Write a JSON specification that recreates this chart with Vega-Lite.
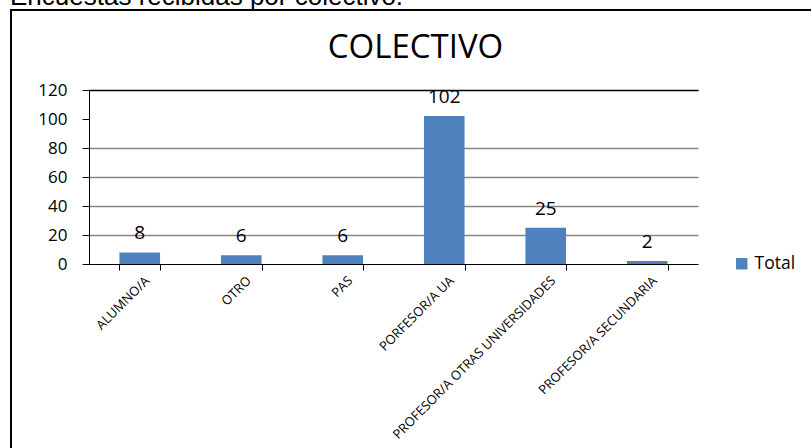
{
  "$schema": "https://vega.github.io/schema/vega-lite/v6.json",
  "autosize": {"type": "none"},
  "padding": {"left": 11, "top": 10, "right": -1, "bottom": -1},
  "width": 801,
  "height": 439,
  "background": "white",
  "title": {
    "text": "Encuestas recibidas por colectivo.",
    "anchor": "start",
    "frame": "group",
    "orient": "top",
    "offset": -21,
    "baseline": "alphabetic",
    "font": "Liberation Sans",
    "fontSize": 26,
    "fontWeight": "normal",
    "color": "#000000",
    "dx": -1
  },
  "data": {
    "values": [
      {"colectivo": "ALUMNO/A", "total": 8},
      {"colectivo": "OTRO", "total": 6},
      {"colectivo": "PAS", "total": 6},
      {"colectivo": "PORFESOR/A UA", "total": 102},
      {"colectivo": "PROFESOR/A OTRAS UNIVERSIDADES", "total": 25},
      {"colectivo": "PROFESOR/A SECUNDARIA", "total": 2}
    ]
  },
  "layer": [
    {
      "mark": {"type": "bar", "color": "#4F81BD"},
      "encoding": {
        "x": {
          "field": "colectivo",
          "type": "nominal",
          "sort": null,
          "scale": {"range": [78, 687], "paddingInner": 0.6, "paddingOuter": 0.3},
          "axis": {
            "title": null,
            "orient": "bottom",
            "offset": -185,
            "tickBand": "extent",
            "domainColor": "#000000",
            "tickColor": "#000000",
            "tickSize": 6,
            "labelAngle": -45,
            "labelAlign": "right",
            "labelBaseline": "top",
            "labelPadding": 4,
            "labelOffset": 3,
            "labelFontSize": 13,
            "labelFont": "Open Sans",
            "labelColor": "#000000",
            "labelLimit": 0,
            "labelOverlap": false,
            "grid": false
          }
        },
        "y": {
          "field": "total",
          "type": "quantitative",
          "scale": {"domain": [0, 120], "range": [254, 80], "nice": false, "zero": true},
          "axis": {
            "title": "COLECTIVO",
            "titleX": 326,
            "titleY": 47,
            "titleAngle": 0,
            "titleAlign": "center",
            "titleBaseline": "alphabetic",
            "titleFont": "Open Sans",
            "titleFontSize": 33,
            "titleFontWeight": "normal",
            "titleColor": "#000000",
            "orient": "left",
            "offset": -78,
            "values": [0, 20, 40, 60, 80, 100, 120],
            "domainColor": "#000000",
            "tickColor": "#000000",
            "tickSize": 7,
            "labelPadding": 15,
            "labelFontSize": 17,
            "labelFont": "Open Sans",
            "labelColor": "#000000",
            "grid": false
          }
        },
        "color": {
          "datum": "Total",
          "type": "nominal",
          "scale": {"range": ["#4F81BD"]},
          "legend": {
            "title": null,
            "orient": "none",
            "legendX": 722,
            "legendY": 245,
            "symbolType": "square",
            "symbolSize": 130,
            "symbolStrokeWidth": 0,
            "labelFontSize": 17.5,
            "labelFont": "Open Sans",
            "labelColor": "#000000",
            "labelOffset": 4,
            "padding": 0
          }
        }
      }
    },
    {
      "mark": {"type": "text", "baseline": "alphabetic", "dy": -13, "fontSize": 19, "font": "Open Sans", "color": "#000000"},
      "encoding": {
        "x": {
          "field": "colectivo",
          "type": "nominal",
          "sort": null,
          "axis": {
            "title": null,
            "orient": "top",
            "offset": -80,
            "labels": false,
            "ticks": false,
            "domain": true,
            "domainColor": "#000000",
            "domainWidth": 1.3,
            "grid": false
          }
        },
        "y": {
          "field": "total",
          "type": "quantitative",
          "axis": {
            "title": null,
            "orient": "left",
            "offset": -78,
            "values": [20, 40, 60, 80],
            "labels": false,
            "ticks": false,
            "domain": false,
            "grid": true,
            "gridColor": "#868686",
            "gridWidth": 1.3
          }
        },
        "text": {"field": "total", "type": "quantitative"}
      }
    }
  ],
  "resolve": {"axis": {"x": "independent", "y": "independent"}},
  "config": {"view": {"stroke": "#000000", "strokeWidth": 2}}
}
